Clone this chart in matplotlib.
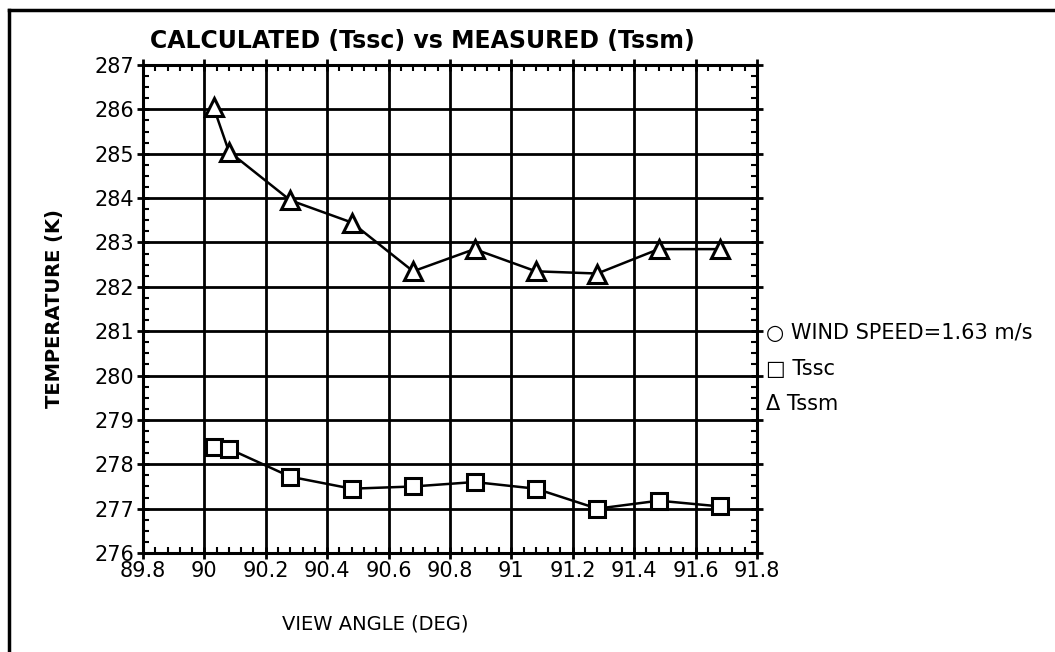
import matplotlib
matplotlib.use('Agg')
import matplotlib.pyplot as plt
from matplotlib.ticker import MultipleLocator, AutoMinorLocator, FormatStrFormatter
from matplotlib.lines import Line2D

# view angle (deg)
angle = [90.03, 90.08, 90.28, 90.48, 90.68, 90.88, 91.08, 91.28, 91.48, 91.68]
# calculated temperature (K)
tssc = [278.38, 278.35, 277.72, 277.45, 277.50, 277.60, 277.45, 277.00, 277.18, 277.05]
# measured temperature (K)
tssm = [286.05, 285.05, 283.95, 283.45, 282.35, 282.85, 282.35, 282.30, 282.85, 282.85]

legend_rows = ['\u25cb WIND SPEED=1.63 m/s', '\u25a1 Tssc', '\u0394 Tssm']
legend_y = [280.95, 280.15, 279.35]

plt.rcParams['font.family'] = ['DejaVu Sans']

fig = plt.figure(figsize=(10.55, 6.52), dpi=100)
ax = fig.add_axes([0.1355, 0.1518, 0.582, 0.7485])

ax.plot(angle, tssc, color='black', lw=1.8, marker='s', ms=12,
        mfc='white', mec='black', mew=2.2)
ax.plot(angle, tssm, color='black', lw=1.8, marker='^', ms=13,
        mfc='white', mec='black', mew=2.2)

ax.set_xlim(89.8, 91.8)
ax.set_ylim(276, 287)
ax.xaxis.set_major_locator(MultipleLocator(0.2))
ax.yaxis.set_major_locator(MultipleLocator(1))
ax.xaxis.set_minor_locator(AutoMinorLocator(5))
ax.yaxis.set_minor_locator(AutoMinorLocator(4))
ax.set_xticklabels([('%.1f' % v).rstrip('0').rstrip('.') for v in ax.get_xticks()])
ax.yaxis.set_major_formatter(FormatStrFormatter('%d'))
ax.grid(True, which='major', color='black', lw=2)
ax.set_axisbelow(True)
for s in ax.spines.values():
    s.set_linewidth(2.2)
ax.tick_params(which='major', direction='inout', length=8, width=2,
               labelsize=15, top=True, right=True, pad=2)
ax.tick_params(which='minor', direction='in', length=4, width=1.5,
               top=True, right=True)

ax.set_title('CALCULATED (Tssc) vs MEASURED (Tssm)', fontsize=17,
             fontweight='bold', loc='left', x=0.012, pad=12)
ax.set_ylabel('TEMPERATURE (K)', fontsize=14, fontweight='bold', labelpad=22)
ax.set_xlabel('VIEW ANGLE (DEG)', fontsize=14, labelpad=24, x=0.378)

for txt, yy in zip(legend_rows, legend_y):
    ax.text(91.83, yy, txt, fontsize=15, va='center', ha='left', clip_on=False)

# scanned page frame: top and left edges only
fig.lines.append(Line2D([0.009, 0.009], [0.0, 0.985], transform=fig.transFigure,
                        color='black', lw=2.5))
fig.lines.append(Line2D([0.009, 1.0], [0.985, 0.985], transform=fig.transFigure,
                        color='black', lw=2.5))

plt.savefig('out.png', dpi=100)
